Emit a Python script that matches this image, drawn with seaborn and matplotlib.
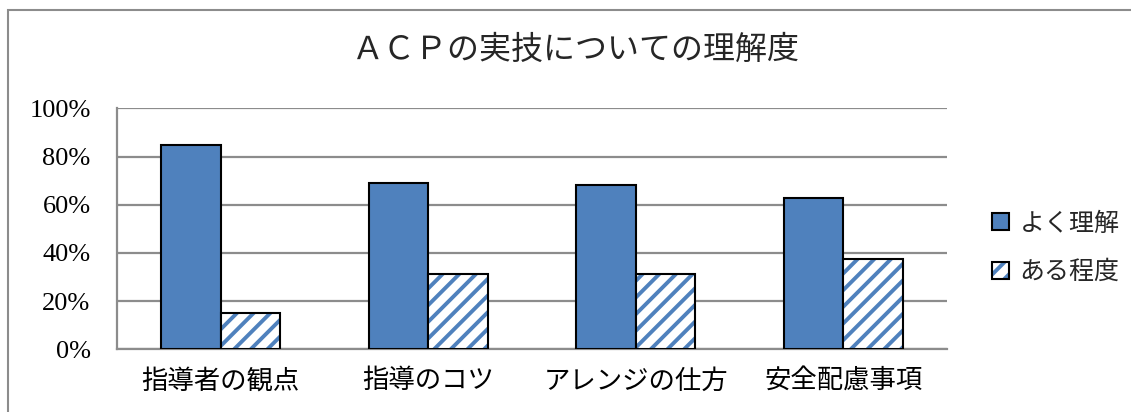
import matplotlib
matplotlib.use("Agg")
import matplotlib.pyplot as plt
from matplotlib.patches import Rectangle, Patch
import seaborn as sns
import pandas as pd

categories = ["指導者の観点", "指導のコツ", "アレンジの仕方", "安全配慮事項"]
series_names = ["よく理解", "ある程度"]
well_understood = [84.8, 68.9, 68.2, 62.6]
somewhat = [15.2, 31.1, 31.1, 37.5]
ytick_values = [0, 20, 40, 60, 80, 100]
ytick_labels = ["0%", "20%", "40%", "60%", "80%", "100%"]
title = "ＡＣＰの実技についての理解度"

BLUE = "#4F81BD"
GRID = "#8C8C8C"

sns.set_theme(style="white")
plt.rcParams["font.family"] = ["Liberation Serif", "Noto Sans CJK JP", "DejaVu Sans"]
plt.rcParams["hatch.linewidth"] = 2.8

df = pd.DataFrame({
    "category": categories * 2,
    "series": [series_names[0]] * len(categories) + [series_names[1]] * len(categories),
    "value": [v / 100 for v in well_understood] + [v / 100 for v in somewhat],
})

fig = plt.figure(figsize=(11.31, 4.12), dpi=100)
ax = fig.add_axes([0.1034, 0.1522, 0.7339, 0.5849])

sns.barplot(data=df, x="category", y="value", hue="series", order=categories,
            hue_order=series_names, palette=[BLUE, "white"], saturation=1,
            width=0.575, edgecolor="black", linewidth=1.5, errorbar=None,
            legend=False, ax=ax, zorder=3)

# Second series gets blue diagonal stripes; keep a black outline on top
bars = list(ax.patches)
n = len(categories)
for p in bars[n:2 * n]:
    p.set_hatch("//")
    p.set_edgecolor(BLUE)
    p.set_linewidth(0)
    ax.add_patch(Rectangle(p.get_xy(), p.get_width(), p.get_height(),
                           fill=False, edgecolor="black", linewidth=1.5, zorder=4))

ax.set_ylim(0, 1)
ax.set_yticks([v / 100 for v in ytick_values])
ax.set_yticklabels(ytick_labels)
ax.set_xlabel("")
ax.set_ylabel("")
ax.yaxis.grid(True, color=GRID, linewidth=1.6, zorder=0)
ax.set_axisbelow(True)
ax.tick_params(axis="y", length=0, pad=19, labelsize=19, colors="black")
ax.tick_params(axis="x", length=0, pad=14, labelsize=19, colors="black")
for s in ["top", "right"]:
    ax.spines[s].set_visible(False)
for s in ["left", "bottom"]:
    ax.spines[s].set_color(GRID)
    ax.spines[s].set_linewidth(1.6)

solid_key = Patch(facecolor=BLUE, edgecolor="black", linewidth=1.5)
striped_key = (Patch(facecolor="white", edgecolor=BLUE, linewidth=0, hatch="//"),
               Patch(fill=False, edgecolor="black", linewidth=1.5))
leg = ax.legend(handles=[solid_key, striped_key], labels=series_names,
                loc="center left", bbox_to_anchor=(1.027, 0.42),
                frameon=False, fontsize=18, handlelength=0.7, handleheight=0.7,
                handletextpad=0.4, labelspacing=1.0)

fig.text(0.509, 1 - 51 / 412, title, ha="center", va="center", fontsize=23)

# chart area frame
fig.patches.append(Rectangle((7.5 / 1131, -0.1), 1.2, 0.1 + 1 - 10.5 / 412,
                             transform=fig.transFigure, fill=False,
                             edgecolor="#8C8C8C", linewidth=1.5))

fig.savefig("out.png", dpi=100)
